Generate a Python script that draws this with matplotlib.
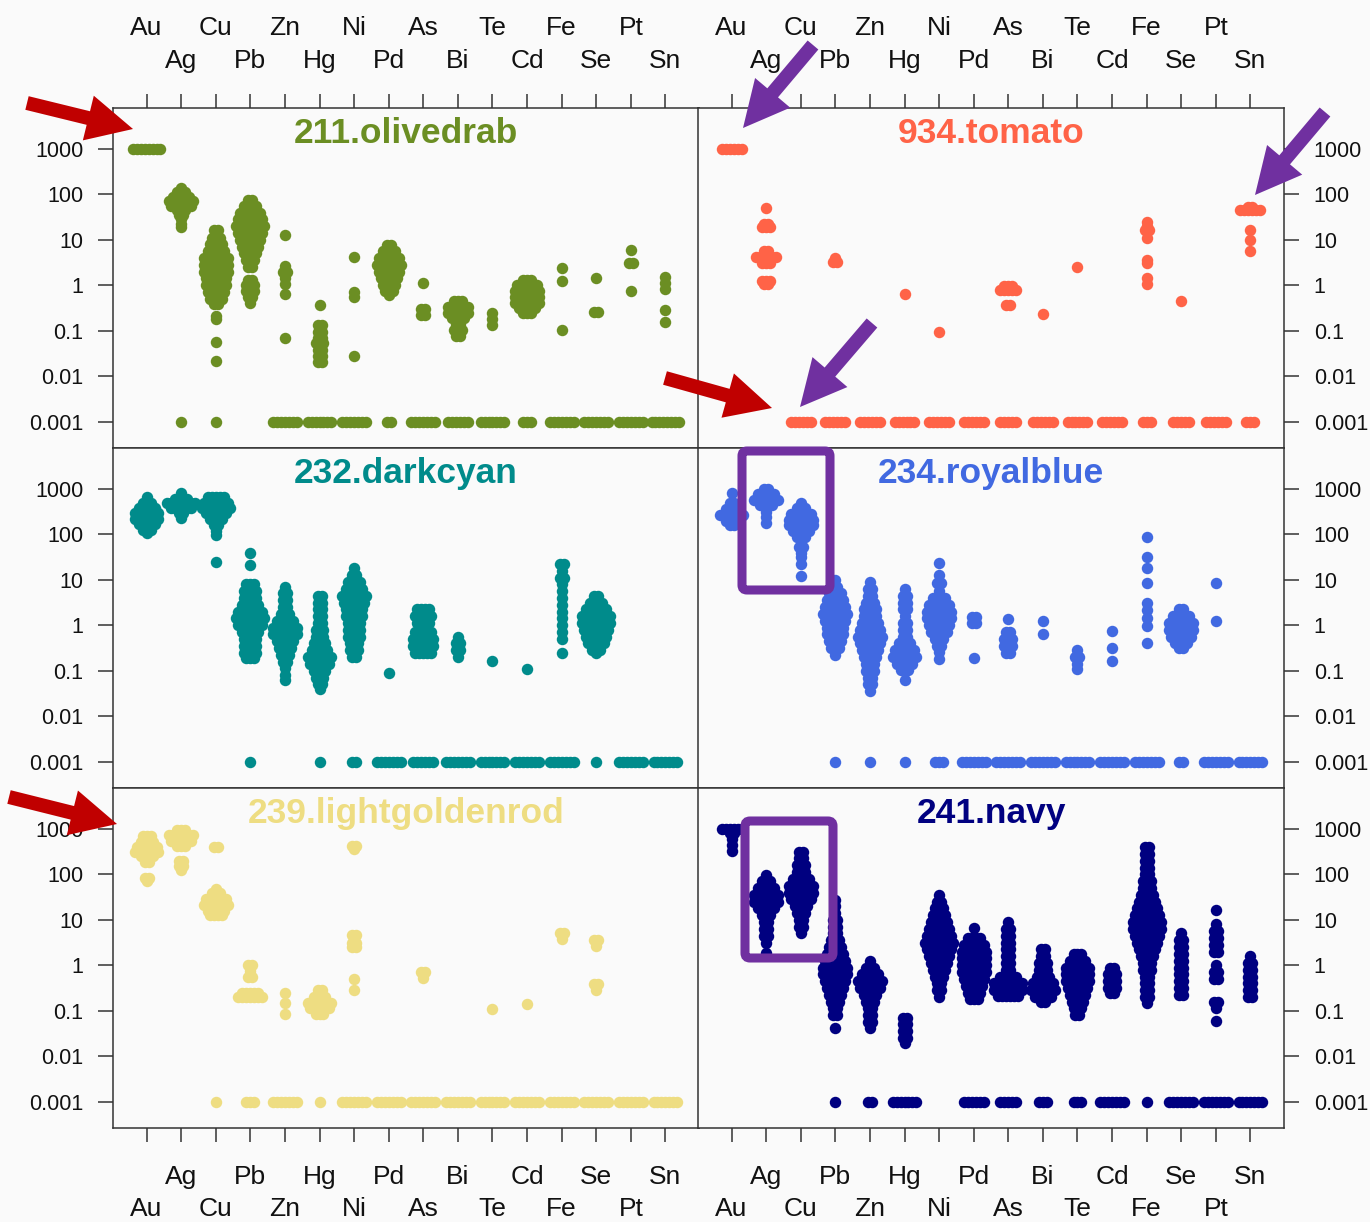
import numpy as np
import matplotlib
matplotlib.use("Agg")
import matplotlib.pyplot as plt
from matplotlib.transforms import blended_transform_factory
from matplotlib.patches import FancyArrow, FancyBboxPatch
from matplotlib.ticker import NullLocator

plt.rcParams['font.family'] = ['Liberation Sans', 'DejaVu Sans']

elements = ["Au", "Ag", "Cu", "Pb", "Zn", "Hg", "Ni", "Pd",
            "As", "Bi", "Te", "Cd", "Fe", "Se", "Pt", "Sn"]
decades = [-3, -2, -1, 0, 1, 2, 3]
decade_labels = ["0.001", "0.01", "0.1", "1", "10", "100", "1000"]

# (log10 concentration, number of points at that level); -3 = below detection (0.001)
olivedrab = {
    "Au": [(3.0, 8)],
    "Ag": [(2.15, 1), (2.05, 3), (1.95, 5), (1.85, 7), (1.75, 6), (1.65, 3), (1.55, 2),
           (1.45, 1), (1.35, 1), (1.28, 1), (-3, 1)],
    "Cu": [(1.22, 2), (1.05, 3), (0.9, 4), (0.75, 5), (0.6, 7), (0.45, 7), (0.3, 7), (0.15, 6),
           (0.0, 6), (-0.15, 5), (-0.3, 4), (-0.42, 2), (-0.68, 1), (-0.75, 1), (-1.25, 1),
           (-1.67, 1), (-3, 1)],
    "Pb": [(1.88, 2), (1.75, 4), (1.6, 6), (1.45, 7), (1.3, 8), (1.15, 7), (1.0, 6), (0.85, 5),
           (0.7, 4), (0.55, 3), (0.4, 2), (0.12, 2), (0.0, 3), (-0.12, 3), (-0.25, 2), (-0.4, 1)],
    "Zn": [(1.1, 1), (0.42, 1), (0.3, 2), (0.15, 1), (0.02, 1), (-0.2, 1), (-1.15, 1), (-3, 7)],
    "Hg": [(-0.43, 1), (-0.88, 2), (-1.02, 2), (-1.15, 2), (-1.28, 3), (-1.42, 2), (-1.56, 2),
           (-1.68, 2), (-3, 7)],
    "Ni": [(0.62, 1), (-0.15, 1), (-0.25, 1), (-1.55, 1), (-3, 7)],
    "Pd": [(0.88, 2), (0.75, 4), (0.6, 6), (0.45, 7), (0.3, 6), (0.15, 5), (0.0, 4), (-0.12, 3),
           (-0.22, 1), (-3, 2)],
    "As": [(0.05, 1), (-0.52, 2), (-0.65, 2), (-3, 7)],
    "Bi": [(-0.35, 3), (-0.48, 6), (-0.6, 6), (-0.72, 4), (-0.85, 2), (-0.98, 3), (-1.12, 2),
           (-3, 6)],
    "Te": [(-0.62, 1), (-0.75, 1), (-0.88, 1), (-3, 7)],
    "Cd": [(0.12, 3), (0.0, 6), (-0.12, 7), (-0.25, 7), (-0.38, 7), (-0.5, 5), (-0.6, 3), (-3, 3)],
    "Fe": [(0.38, 1), (0.1, 1), (-0.98, 1), (-3, 7)],
    "Se": [(0.16, 1), (-0.58, 2), (-3, 7)],
    "Pt": [(0.78, 1), (0.5, 2), (-0.12, 1), (-3, 7)],
    "Sn": [(0.18, 1), (0.05, 1), (-0.08, 1), (-0.55, 1), (-0.8, 1), (-3, 8)],
}

tomato = {
    "Au": [(3.0, 6)],
    "Ag": [(1.69, 1), (1.35, 2), (1.28, 3), (0.75, 2), (0.62, 6), (0.5, 3), (0.1, 3), (0.03, 2)],
    "Cu": [(-3, 6)],
    "Pb": [(0.6, 1), (0.52, 2), (-3, 6)],
    "Zn": [(-3, 6)],
    "Hg": [(-0.2, 1), (-3, 6)],
    "Ni": [(-1.03, 1), (-3, 6)],
    "Pd": [(-3, 6)],
    "As": [(-0.02, 3), (-0.1, 5), (-0.43, 2), (-3, 5)],
    "Bi": [(-0.63, 1), (-3, 6)],
    "Te": [(0.4, 1), (-3, 6)],
    "Cd": [(-3, 6)],
    "Fe": [(1.4, 1), (1.3, 1), (1.22, 2), (1.05, 1), (0.56, 1), (0.49, 1), (0.16, 1), (0.02, 1),
           (-3, 3)],
    "Se": [(-0.35, 1), (-3, 5)],
    "Pt": [(-3, 6)],
    "Sn": [(1.72, 2), (1.66, 6), (1.22, 1), (0.99, 1), (0.75, 1), (-3, 3)],
}

darkcyan = {
    "Au": [(2.82, 1), (2.7, 3), (2.58, 5), (2.46, 7), (2.34, 7), (2.22, 5), (2.1, 3), (2.02, 1)],
    "Ag": [(2.9, 1), (2.78, 4), (2.68, 8), (2.58, 6), (2.46, 2), (2.35, 1)],
    "Cu": [(2.82, 5), (2.7, 7), (2.58, 8), (2.46, 6), (2.34, 4), (2.2, 2), (2.08, 1), (1.98, 1),
           (1.39, 1)],
    "Pb": [(1.59, 1), (1.33, 1), (0.9, 3), (0.75, 4), (0.6, 4), (0.45, 5), (0.3, 7), (0.15, 8),
           (0.0, 7), (-0.15, 5), (-0.3, 4), (-0.45, 4), (-0.6, 4), (-0.72, 3), (-3, 1)],
    "Zn": [(0.85, 1), (0.7, 2), (0.55, 2), (0.4, 2), (0.25, 3), (0.1, 5), (-0.05, 7), (-0.2, 7),
           (-0.35, 5), (-0.5, 4), (-0.65, 3), (-0.8, 2), (-0.95, 1), (-1.1, 1), (-1.2, 1)],
    "Hg": [(0.65, 2), (0.5, 2), (0.35, 2), (0.2, 2), (0.05, 2), (-0.1, 3), (-0.25, 3), (-0.4, 4),
           (-0.55, 5), (-0.7, 7), (-0.85, 6), (-1.0, 4), (-1.15, 3), (-1.3, 2), (-1.4, 1), (-3, 1)],
    "Ni": [(1.25, 1), (1.1, 2), (0.95, 4), (0.8, 5), (0.65, 7), (0.5, 6), (0.35, 5), (0.2, 5),
           (0.05, 4), (-0.1, 4), (-0.25, 4), (-0.4, 3), (-0.55, 3), (-0.7, 2), (-3, 2)],
    "Pd": [(-1.05, 1), (-3, 7)],
    "As": [(0.35, 4), (0.2, 5), (0.05, 4), (-0.15, 5), (-0.3, 6), (-0.45, 6), (-0.6, 5), (-3, 6)],
    "Bi": [(-0.25, 1), (-0.4, 2), (-0.55, 2), (-0.7, 1), (-3, 7)],
    "Te": [(-0.79, 1), (-3, 7)],
    "Cd": [(-0.97, 1), (-3, 7)],
    "Fe": [(1.35, 2), (1.2, 1), (1.05, 2), (0.9, 1), (0.75, 1), (0.6, 1), (0.45, 1), (0.3, 1),
           (0.15, 1), (0.0, 1), (-0.15, 1), (-0.3, 1), (-0.6, 1), (-3, 7)],
    "Se": [(0.65, 2), (0.5, 4), (0.35, 6), (0.2, 8), (0.05, 8), (-0.1, 7), (-0.25, 6), (-0.4, 5),
           (-0.55, 3), (-0.62, 1), (-3, 1)],
    "Pt": [(-3, 7)],
    "Sn": [(-3, 7)],
}

royalblue = {
    "Au": [(2.9, 1), (2.7, 2), (2.55, 4), (2.43, 7), (2.3, 4), (2.2, 2)],
    "Ag": [(3.0, 2), (2.88, 5), (2.76, 7), (2.64, 4), (2.5, 1), (2.38, 1), (2.26, 1)],
    "Cu": [(2.7, 1), (2.58, 3), (2.45, 6), (2.32, 7), (2.2, 7), (2.08, 5), (1.95, 3), (1.85, 1),
           (1.72, 2), (1.6, 1), (1.5, 1), (1.35, 1), (1.08, 1)],
    "Pb": [(1.0, 1), (0.85, 2), (0.7, 4), (0.55, 5), (0.4, 6), (0.25, 7), (0.1, 6), (-0.05, 5),
           (-0.2, 5), (-0.35, 4), (-0.5, 3), (-0.65, 1), (-3, 1)],
    "Zn": [(0.95, 1), (0.8, 2), (0.65, 2), (0.5, 3), (0.35, 4), (0.2, 4), (0.05, 5), (-0.1, 6),
           (-0.25, 7), (-0.4, 6), (-0.55, 5), (-0.7, 4), (-0.85, 3), (-1.0, 3), (-1.15, 2),
           (-1.3, 2), (-1.45, 1), (-3, 1)],
    "Hg": [(0.8, 1), (0.65, 2), (0.5, 2), (0.35, 2), (0.2, 1), (0.05, 2), (-0.1, 2), (-0.25, 2),
           (-0.4, 4), (-0.55, 6), (-0.7, 7), (-0.85, 5), (-0.98, 3), (-1.2, 1), (-3, 1)],
    "Ni": [(1.37, 1), (1.11, 1), (0.93, 2), (0.75, 1), (0.6, 4), (0.45, 6), (0.3, 7), (0.15, 7),
           (0.0, 6), (-0.15, 5), (-0.3, 3), (-0.45, 2), (-0.58, 1), (-0.75, 1), (-3, 3)],
    "Pd": [(0.18, 2), (0.05, 2), (-0.73, 1), (-3, 7)],
    "As": [(0.13, 1), (-0.15, 2), (-0.3, 3), (-0.45, 3), (-0.6, 2), (-3, 7)],
    "Bi": [(0.09, 1), (-0.2, 1), (-3, 7)],
    "Te": [(-0.55, 1), (-0.7, 2), (-0.85, 1), (-0.97, 1), (-3, 7)],
    "Cd": [(-0.12, 1), (-0.5, 1), (-0.79, 1), (-3, 7)],
    "Fe": [(1.95, 1), (1.51, 1), (1.26, 1), (0.94, 1), (0.49, 1), (0.34, 1), (0.16, 1),
           (-0.02, 1), (-0.4, 1), (-3, 7)],
    "Se": [(0.35, 2), (0.2, 5), (0.05, 7), (-0.1, 7), (-0.25, 6), (-0.4, 4), (-0.5, 2), (-3, 2)],
    "Pt": [(0.94, 1), (0.09, 1), (-3, 7)],
    "Sn": [(-3, 7)],
}

lightgoldenrod = {
    "Au": [(2.85, 3), (2.72, 4), (2.6, 6), (2.5, 7), (2.4, 4), (2.28, 2), (1.92, 2), (1.85, 1)],
    "Ag": [(2.98, 3), (2.86, 7), (2.74, 6), (2.62, 3), (2.3, 2), (2.18, 2), (2.1, 1)],
    "Cu": [(2.61, 2), (1.68, 1), (1.58, 3), (1.45, 6), (1.33, 7), (1.2, 5), (1.1, 4), (-3, 1)],
    "Pb": [(0.0, 2), (-0.12, 1), (-0.25, 2), (-0.62, 5), (-0.7, 7), (-3, 3)],
    "Zn": [(-0.61, 1), (-0.83, 1), (-1.08, 1), (-3, 7)],
    "Hg": [(-0.55, 2), (-0.7, 4), (-0.82, 7), (-0.95, 6), (-1.08, 3), (-3, 1)],
    "Ni": [(2.63, 2), (2.55, 1), (0.67, 2), (0.49, 2), (0.4, 2), (-0.31, 1), (-0.55, 1), (-3, 7)],
    "Pd": [(-3, 7)],
    "As": [(-0.15, 2), (-0.28, 1), (-3, 7)],
    "Bi": [(-3, 7)],
    "Te": [(-0.97, 1), (-3, 7)],
    "Cd": [(-0.86, 1), (-3, 7)],
    "Fe": [(0.7, 2), (0.58, 1), (-3, 7)],
    "Se": [(0.55, 2), (0.42, 1), (-0.42, 2), (-0.55, 1), (-3, 7)],
    "Pt": [(-3, 7)],
    "Sn": [(-3, 7)],
}

navy = {
    "Au": [(3.0, 6), (2.9, 2), (2.78, 1), (2.65, 1), (2.52, 1)],
    "Ag": [(1.98, 1), (1.85, 3), (1.7, 5), (1.55, 7), (1.4, 7), (1.25, 5), (1.1, 3), (0.95, 2),
           (0.8, 2), (0.65, 2), (0.5, 1), (0.27, 1)],
    "Cu": [(2.5, 2), (2.35, 2), (2.2, 3), (2.05, 3), (1.9, 5), (1.75, 7), (1.6, 7), (1.45, 6),
           (1.3, 4), (1.15, 3), (1.0, 2), (0.85, 2), (0.72, 1)],
    "Pb": [(1.44, 1), (1.3, 1), (1.15, 1), (1.0, 2), (0.85, 2), (0.7, 2), (0.55, 3), (0.4, 4),
           (0.25, 5), (0.1, 6), (-0.05, 7), (-0.2, 7), (-0.35, 6), (-0.5, 5), (-0.65, 4),
           (-0.8, 3), (-0.95, 2), (-1.1, 2), (-1.37, 1), (-3, 1)],
    "Zn": [(0.09, 1), (-0.05, 3), (-0.2, 5), (-0.35, 7), (-0.5, 6), (-0.65, 4), (-0.8, 3),
           (-0.95, 2), (-1.1, 2), (-1.25, 2), (-1.37, 1), (-3, 2)],
    "Hg": [(-1.15, 2), (-1.3, 2), (-1.45, 2), (-1.6, 2), (-1.72, 1), (-3, 7)],
    "Ni": [(1.55, 1), (1.4, 2), (1.25, 3), (1.1, 4), (0.95, 5), (0.8, 6), (0.65, 7), (0.5, 8),
           (0.35, 7), (0.2, 6), (0.05, 5), (-0.1, 4), (-0.25, 3), (-0.4, 2), (-0.55, 2), (-0.7, 1)],
    "Pd": [(0.82, 1), (0.6, 4), (0.45, 6), (0.3, 7), (0.15, 7), (0.0, 7), (-0.15, 7), (-0.3, 6),
           (-0.45, 5), (-0.6, 4), (-0.75, 3), (-3, 6)],
    "As": [(0.95, 1), (0.8, 2), (0.65, 2), (0.5, 2), (0.35, 2), (0.2, 2), (0.05, 2), (-0.1, 2),
           (-0.25, 5), (-0.4, 8), (-0.55, 8), (-0.68, 6), (-3, 5)],
    "Bi": [(0.35, 2), (0.2, 2), (0.05, 3), (-0.1, 3), (-0.25, 4), (-0.4, 6), (-0.55, 7),
           (-0.7, 5), (-0.8, 2), (-3, 3)],
    "Te": [(0.25, 3), (0.1, 5), (-0.05, 7), (-0.2, 7), (-0.35, 7), (-0.5, 6), (-0.65, 5),
           (-0.8, 4), (-0.95, 3), (-1.1, 2), (-3, 3)],
    "Cd": [(-0.05, 2), (-0.2, 3), (-0.35, 3), (-0.5, 3), (-0.62, 2), (-3, 7)],
    "Fe": [(2.6, 2), (2.45, 2), (2.3, 2), (2.15, 2), (2.0, 2), (1.85, 3), (1.7, 3), (1.55, 4),
           (1.4, 5), (1.25, 6), (1.1, 7), (0.95, 8), (0.8, 8), (0.65, 7), (0.5, 6), (0.35, 5),
           (0.2, 4), (0.05, 3), (-0.1, 3), (-0.25, 2), (-0.4, 2), (-0.55, 2), (-0.7, 2),
           (-0.82, 1), (-3, 1)],
    "Se": [(0.7, 1), (0.55, 2), (0.4, 2), (0.25, 2), (0.1, 2), (-0.05, 2), (-0.2, 2), (-0.35, 2),
           (-0.5, 2), (-0.65, 2), (-3, 7)],
    "Pt": [(1.22, 1), (0.9, 1), (0.75, 2), (0.6, 2), (0.45, 2), (0.3, 2), (0.0, 1), (-0.15, 2),
           (-0.3, 2), (-0.8, 2), (-0.95, 1), (-1.23, 1), (-3, 7)],
    "Sn": [(0.2, 1), (0.05, 2), (-0.1, 2), (-0.25, 2), (-0.4, 2), (-0.55, 2), (-0.7, 2), (-3, 7)],
}

panel_titles = ["211.olivedrab", "934.tomato", "232.darkcyan",
                "234.royalblue", "239.lightgoldenrod", "241.navy"]
panel_colors = ["olivedrab", "tomato", "darkcyan", "royalblue", "#EEDD82", "navy"]
panel_data = [olivedrab, tomato, darkcyan, royalblue, lightgoldenrod, navy]

bg = "#fafafa"
ink = "#111111"
W, H = 1370, 1222
col_x = [113, 698]
col_w = 586
row_y = [108, 448, 788]
row_h = 340


def swarm(levels, pos, step=0.115):
    # spread points of one level side by side around the category position
    xs, ys = [], []
    for lv, n in levels:
        offs = (np.arange(n) - (n - 1) / 2.0) * step
        xs.extend(pos + offs)
        ys.extend([lv] * n)
    return np.array(xs), 10.0 ** np.array(ys)


fig = plt.figure(figsize=(13.7, 12.22), dpi=100, facecolor=bg)

for k in range(6):
    r, c = divmod(k, 2)
    ax = fig.add_axes([col_x[c] / W, 1 - (row_y[r] + row_h) / H, col_w / W, row_h / H])
    ax.set_facecolor(bg)
    data = panel_data[k]
    for i, el in enumerate(elements):
        xs, ys = swarm(data[el], i + 1)
        ax.scatter(xs, ys, s=68, color=panel_colors[k], linewidths=0, zorder=2)

    ax.set_xlim(0.03, 16.97)
    ax.set_yscale("log")
    ax.set_ylim(10 ** -3.58, 10 ** 3.9)
    ax.set_yticks([10.0 ** d for d in decades])
    ax.set_yticklabels(decade_labels)
    ax.yaxis.set_minor_locator(NullLocator())
    ax.set_xticks(range(1, 17))
    ax.tick_params(axis="x", length=10, width=1.1, color="#333333", direction="out",
                   top=(r == 0), bottom=(r == 2), labeltop=False, labelbottom=False)
    ax.tick_params(axis="y", length=11, width=1.1, color="#333333", direction="out",
                   left=(c == 0), right=(c == 1), labelleft=(c == 0), labelright=(c == 1),
                   labelsize=15.5, labelcolor=ink, pad=10.5)
    for sp in ax.spines.values():
        sp.set_color("#333333")
        sp.set_linewidth(1.1)

    ax.text(0.5, 0.925, panel_titles[k], transform=ax.transAxes, ha="center", va="center",
            fontsize=25.5, fontweight="bold", color=panel_colors[k])

    trans = blended_transform_factory(ax.transData, ax.transAxes)
    if r == 0:
        for i, el in enumerate(elements):
            y = 1.235 if i % 2 == 0 else 1.138
            ax.text(i + 1, y, el, transform=trans, ha="center", va="center",
                    fontsize=19, color=ink)
    if r == 2:
        for i, el in enumerate(elements):
            y = -0.238 if i % 2 == 0 else -0.144
            ax.text(i + 1, y, el, transform=trans, ha="center", va="center",
                    fontsize=19, color=ink)

# annotation layer in pixel units
ov = fig.add_axes([0, 0, 1, 1], zorder=10)
ov.set_xlim(0, W)
ov.set_ylim(H, 0)
ov.axis("off")
ov.patch.set_alpha(0)

red = "#c00000"
purple = "#7030a0"
arrows = [((27, 103), (133, 129), red),
          ((665, 378), (772, 408), red),
          ((9, 797), (117, 824), red),
          ((813, 45), (743, 128), purple),
          ((1325, 112), (1255, 195), purple),
          ((872, 323), (800, 407), purple)]
for (x0, y0), (x1, y1), col in arrows:
    ov.add_patch(FancyArrow(x0, y0, x1 - x0, y1 - y0, width=14, head_width=46,
                            head_length=46, length_includes_head=True, color=col, lw=0))

for (x0, y0, x1, y1) in [(742, 451, 830, 590), (745, 821, 833, 958)]:
    ov.add_patch(FancyBboxPatch((x0, y0), x1 - x0, y1 - y0,
                                boxstyle="round,pad=0,rounding_size=5",
                                fill=False, ec=purple, lw=6.5))

fig.savefig("out.png", dpi=100, facecolor=bg)
